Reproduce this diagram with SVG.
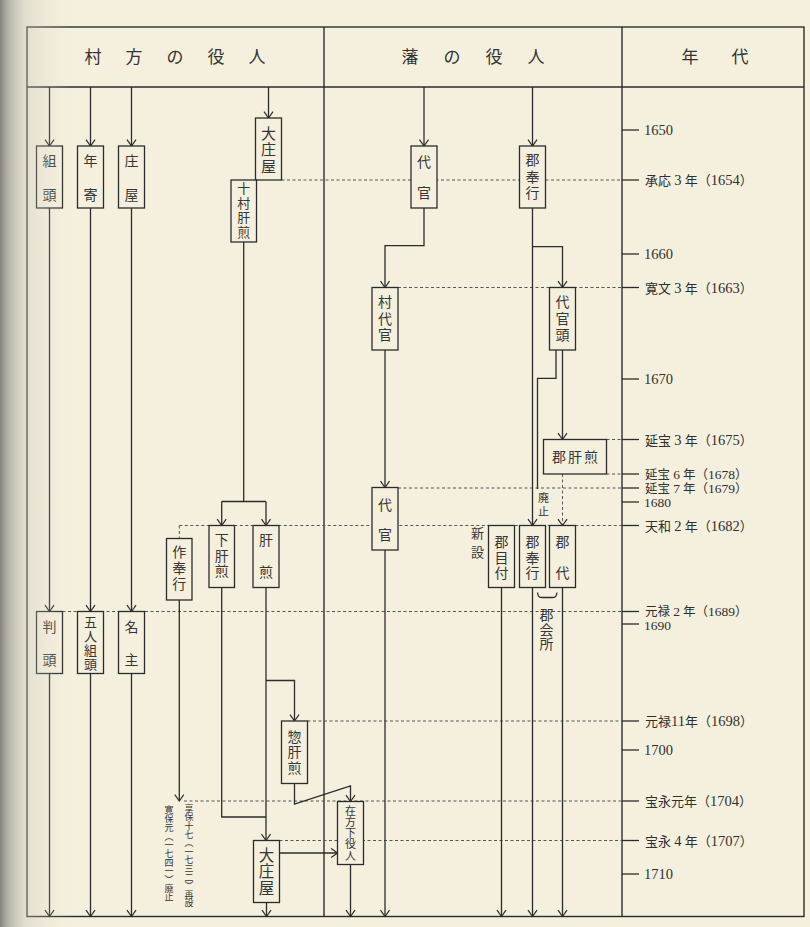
<svg xmlns="http://www.w3.org/2000/svg" width="810" height="927" viewBox="0 0 810 927">
<defs>
<style>
.box{fill:#f5f0de;stroke:#2b2b2b;stroke-width:1.3}
.ln{fill:none;stroke:#2b2b2b;stroke-width:1.3}
.dot{fill:none;stroke:#555;stroke-width:1;stroke-dasharray:3 2.5}
.frame{fill:none;stroke:#2b2b2b;stroke-width:1.4}
.jp{font-family:"Noto Sans CJK JP","Noto Sans CJK SC",sans-serif;fill:#363636;font-size:14px}
.v{writing-mode:vertical-rl;text-anchor:start}
.hd{font-family:"Noto Sans CJK JP",sans-serif;fill:#333;text-anchor:middle;font-size:17px}
.yr{font-family:"Liberation Serif","Noto Sans CJK JP",serif;fill:#2f2f2f;font-size:13px}
.d{font-size:14.5px}
.ys{font-size:12.5px}
.ys .d{font-size:13.5px}
</style>
<marker id="ah" viewBox="0 0 7 10" refX="6.6" refY="5" markerWidth="7" markerHeight="10" orient="auto" markerUnits="userSpaceOnUse" overflow="visible">
<path d="M0.3,0.5 L6.6,5 L0.3,9.5" fill="none" stroke="#2b2b2b" stroke-width="1.2"/>
</marker>
<linearGradient id="shade" x1="0" y1="0" x2="1" y2="0">
<stop offset="0" stop-color="#7c7b76" stop-opacity="0.95"/>
<stop offset="0.12" stop-color="#9d9c95" stop-opacity="0.7"/>
<stop offset="0.35" stop-color="#c4c1b4" stop-opacity="0.4"/>
<stop offset="1" stop-color="#e8e2cf" stop-opacity="0"/>
</linearGradient>
</defs>

<rect x="0" y="0" width="810" height="927" fill="#f5f0de"/>

<g id="frame">
<rect class="frame" x="27" y="27" width="777" height="889.5"/>
<line class="frame" x1="27" y1="87" x2="804" y2="87"/>
<line class="frame" x1="324" y1="27" x2="324" y2="916.5"/>
<line class="frame" x1="622" y1="27" x2="622" y2="916.5"/>
<text class="hd"><tspan x="93" y="63">村</tspan><tspan x="134" y="63">方</tspan><tspan x="175" y="63">の</tspan><tspan x="216" y="63">役</tspan><tspan x="257" y="63">人</tspan></text>
<text class="hd"><tspan x="410" y="63">藩</tspan><tspan x="452" y="63">の</tspan><tspan x="494" y="63">役</tspan><tspan x="536" y="63">人</tspan></text>
<text class="hd"><tspan x="690" y="63">年</tspan><tspan x="740" y="63">代</tspan></text>
</g>

<g id="guides">
<line class="dot" x1="281.5" y1="180" x2="622" y2="180"/>
<line class="dot" x1="398" y1="287.5" x2="622" y2="287.5"/>
<line class="dot" x1="606.5" y1="439.5" x2="622" y2="439.5"/>
<line class="dot" x1="606.5" y1="474" x2="622" y2="474"/>
<line class="dot" x1="398" y1="488" x2="622" y2="488"/>
<line class="dot" x1="179.3" y1="525.5" x2="622" y2="525.5"/>
<line class="dot" x1="179.3" y1="525.5" x2="179.3" y2="538.5"/>
<line class="dot" x1="62.5" y1="611.5" x2="622" y2="611.5"/>
<line class="dot" x1="307.5" y1="721" x2="622" y2="721"/>
<line class="dot" x1="184" y1="801" x2="622" y2="801"/>
<line class="dot" x1="279.5" y1="840.5" x2="622" y2="840.5"/>
<line class="dot" x1="562.5" y1="474" x2="562.5" y2="525.5" marker-end="url(#ah)"/>
</g>

<g id="connectors">
<line class="ln" x1="49.5" y1="87" x2="49.5" y2="146" marker-end="url(#ah)"/>
<line class="ln" x1="90.5" y1="87" x2="90.5" y2="146" marker-end="url(#ah)"/>
<line class="ln" x1="131.5" y1="87" x2="131.5" y2="146" marker-end="url(#ah)"/>
<line class="ln" x1="268.5" y1="87" x2="268.5" y2="118" marker-end="url(#ah)"/>
<line class="ln" x1="424" y1="87" x2="424" y2="146" marker-end="url(#ah)"/>
<line class="ln" x1="532.5" y1="87" x2="532.5" y2="146" marker-end="url(#ah)"/>

<line class="ln" x1="49.5" y1="208" x2="49.5" y2="611.5" marker-end="url(#ah)"/>
<line class="ln" x1="90.5" y1="208" x2="90.5" y2="611.5" marker-end="url(#ah)"/>
<line class="ln" x1="131.5" y1="208" x2="131.5" y2="611.5" marker-end="url(#ah)"/>
<line class="ln" x1="49.5" y1="673.5" x2="49.5" y2="916.5" marker-end="url(#ah)"/>
<line class="ln" x1="90.5" y1="673.5" x2="90.5" y2="916.5" marker-end="url(#ah)"/>
<line class="ln" x1="131.5" y1="673.5" x2="131.5" y2="916.5" marker-end="url(#ah)"/>

<polyline class="ln" points="243.7,242 243.7,501.5"/>
<polyline class="ln" points="221.7,501.5 266,501.5"/>
<line class="ln" x1="221.7" y1="501.5" x2="221.7" y2="525.5" marker-end="url(#ah)"/>
<line class="ln" x1="266" y1="501.5" x2="266" y2="525.5" marker-end="url(#ah)"/>
<polyline class="ln" points="221.7,587.5 221.7,817 266,817"/>
<line class="ln" x1="266" y1="587.5" x2="266" y2="840.5" marker-end="url(#ah)"/>
<polyline class="ln" points="266,680.5 294.5,680.5 294.5,721" marker-end="url(#ah)"/>
<polyline class="ln" points="294.5,783.5 294.5,804 350.5,786 350.5,801.5" marker-end="url(#ah)"/>
<line class="ln" x1="279.5" y1="853" x2="337.5" y2="853" marker-end="url(#ah)"/>
<line class="ln" x1="266.5" y1="902.5" x2="266.5" y2="916.5" marker-end="url(#ah)"/>
<line class="ln" x1="350.5" y1="864.5" x2="350.5" y2="916.5" marker-end="url(#ah)"/>
<line class="ln" x1="179.3" y1="600" x2="179.3" y2="801" marker-end="url(#ah)"/>

<polyline class="ln" points="424,208 424,245.7 385,245.7 385,287.5" marker-end="url(#ah)"/>
<line class="ln" x1="385" y1="350" x2="385" y2="487.5" marker-end="url(#ah)"/>
<line class="ln" x1="385" y1="550" x2="385" y2="916.5" marker-end="url(#ah)"/>

<line class="ln" x1="532.5" y1="208" x2="532.5" y2="525.5" marker-end="url(#ah)"/>
<polyline class="ln" points="532.5,246.7 562.5,246.7 562.5,287.5" marker-end="url(#ah)"/>
<line class="ln" x1="562.5" y1="350" x2="562.5" y2="439.5" marker-end="url(#ah)"/>
<polyline class="ln" points="556,350 556,378.3 537.5,378.3 537.5,489"/>
<line class="ln" x1="501.5" y1="587.5" x2="501.5" y2="916.5" marker-end="url(#ah)"/>
<line class="ln" x1="532.5" y1="587.5" x2="532.5" y2="916.5" marker-end="url(#ah)"/>
<line class="ln" x1="562.5" y1="587.5" x2="562.5" y2="916.5" marker-end="url(#ah)"/>
<path class="ln" d="M537.5,592.5 C538,597 539.5,597.5 542.5,597.5 L552,597.5 C555,597.5 556.5,597 557,592.5"/>
</g>

<g id="kumigashira"><rect class="box" x="36.5" y="146" width="26" height="62"/><text class="jp v" x="49.5" y="154" letter-spacing="20">組頭</text></g>
<g id="toshiyori"><rect class="box" x="77.5" y="146" width="26" height="62"/><text class="jp v" x="90.5" y="154" letter-spacing="20">年寄</text></g>
<g id="shoya"><rect class="box" x="118.5" y="146" width="26" height="62"/><text class="jp v" x="131.5" y="154" letter-spacing="20">庄屋</text></g>
<g id="oshoya1"><rect class="box" x="255.5" y="118" width="26" height="62"/><text class="jp v" x="268.5" y="125.8" letter-spacing="1.4" style="font-size:15px">大庄屋</text></g>
<g id="tomurakimoiri"><rect class="box" x="231" y="180" width="25.5" height="62"/><text class="jp v" x="243.7" y="181.5" letter-spacing="1.7" style="font-size:13px">十村肝煎</text></g>
<g id="shitakimoiri"><rect class="box" x="209" y="525.5" width="25.5" height="62"/><text class="jp v" x="221.7" y="533" letter-spacing="1.5">下肝煎</text></g>
<g id="kimoiri"><rect class="box" x="253" y="525.5" width="26" height="62"/><text class="jp v" x="266" y="533" letter-spacing="17.7">肝煎</text></g>
<g id="sakubugyo"><rect class="box" x="166.5" y="538.5" width="25.5" height="61.5"/><text class="jp v" x="179.3" y="544.7" letter-spacing="2.2">作奉行</text></g>
<g id="hangashira"><rect class="box" x="36.5" y="611.5" width="26" height="62"/><text class="jp v" x="49.5" y="619.7" letter-spacing="19.3">判頭</text></g>
<g id="goningumigashira"><rect class="box" x="77.5" y="611.5" width="26" height="62"/><text class="jp v" x="90.5" y="615.2" letter-spacing="1" style="font-size:13px">五人組頭</text></g>
<g id="nanushi"><rect class="box" x="118.5" y="611.5" width="26" height="62"/><text class="jp v" x="131.5" y="619.7" letter-spacing="19.3">名主</text></g>
<g id="sokimoiri"><rect class="box" x="281.5" y="721" width="26" height="62.5"/><text class="jp v" x="294.5" y="729.7" letter-spacing="1.3">惣肝煎</text></g>
<g id="oshoya2"><rect class="box" x="253.5" y="840.5" width="26" height="62"/><text class="jp v" x="266.5" y="847.2" letter-spacing="1.1" style="font-size:15.5px">大庄屋</text></g>
<g id="zaikata"><rect class="box" x="337.5" y="801.5" width="26" height="63"/><text class="jp v" x="350.5" y="805" letter-spacing="0.25" style="font-size:11px">在方下役人</text></g>
<g id="note-sakubugyo">
<text class="jp v" x="189" y="803.8" letter-spacing="-0.4" style="font-size:9px">享保十七（一七三二）再設</text>
<text class="jp v" x="169" y="805.5" letter-spacing="-0.3" style="font-size:9px">寛保元（一七四一）廃止</text>
</g>

<g id="daikan1"><rect class="box" x="411" y="146" width="26" height="62"/><text class="jp v" x="424" y="155" letter-spacing="17">代官</text></g>
<g id="koribugyo1"><rect class="box" x="519.5" y="146" width="26" height="62"/><text class="jp v" x="532.5" y="153" letter-spacing="2.5">郡奉行</text></g>
<g id="muradaikan"><rect class="box" x="372" y="287.5" width="26" height="62.5"/><text class="jp v" x="385" y="295" letter-spacing="2.5">村代官</text></g>
<g id="daikangashira"><rect class="box" x="549.5" y="287.5" width="26" height="62.5"/><text class="jp v" x="562.5" y="295" letter-spacing="2.5">代官頭</text></g>
<g id="korikimoiri"><rect class="box" x="543.5" y="439.5" width="63" height="34.5"/><text class="jp" x="576" y="462" text-anchor="middle" letter-spacing="2">郡肝煎</text></g>
<g id="daikan2"><rect class="box" x="372" y="487.5" width="26" height="62.5"/><text class="jp v" x="385" y="498" letter-spacing="16">代官</text></g>
<g id="korimetsuke"><rect class="box" x="488.5" y="525.5" width="26" height="62"/><text class="jp v" x="501.5" y="535" letter-spacing="1.5">郡目付</text></g>
<g id="koribugyo2"><rect class="box" x="519.5" y="525.5" width="26" height="62"/><text class="jp v" x="532.5" y="535" letter-spacing="1.5">郡奉行</text></g>
<g id="koridai"><rect class="box" x="549.5" y="525.5" width="26" height="62"/><text class="jp v" x="562.5" y="535" letter-spacing="17">郡代</text></g>
<g id="labels">
<text class="jp v" x="543.5" y="492.5" letter-spacing="2.7" style="font-size:11px">廃止</text>
<text class="jp v" x="477.5" y="526.5" letter-spacing="5.7" style="font-size:13px">新設</text>
<text class="jp v" x="546.5" y="608" letter-spacing="0.5">郡会所</text>
</g>

<g id="timeline">
<g class="ln">
<line x1="622" y1="130" x2="639" y2="130"/>
<line x1="622" y1="180" x2="639" y2="180"/>
<line x1="622" y1="254" x2="639" y2="254"/>
<line x1="622" y1="287.5" x2="639" y2="287.5"/>
<line x1="622" y1="379" x2="639" y2="379"/>
<line x1="622" y1="439.5" x2="639" y2="439.5"/>
<line x1="622" y1="474" x2="639" y2="474"/>
<line x1="622" y1="488" x2="639" y2="488"/>
<line x1="622" y1="502" x2="639" y2="502"/>
<line x1="622" y1="525.5" x2="639" y2="525.5"/>
<line x1="622" y1="611.5" x2="639" y2="611.5"/>
<line x1="622" y1="624" x2="639" y2="624"/>
<line x1="622" y1="721" x2="639" y2="721"/>
<line x1="622" y1="750" x2="639" y2="750"/>
<line x1="622" y1="801" x2="639" y2="801"/>
<line x1="622" y1="840.5" x2="639" y2="840.5"/>
<line x1="622" y1="874" x2="639" y2="874"/>
</g>
<text class="yr d" x="644" y="135">1650</text>
<text class="yr" x="645" y="185">承応 <tspan class="d">3</tspan> 年（<tspan class="d">1654</tspan>）</text>
<text class="yr d" x="644" y="259">1660</text>
<text class="yr" x="645" y="292.5">寛文 <tspan class="d">3</tspan> 年（<tspan class="d">1663</tspan>）</text>
<text class="yr d" x="644" y="384">1670</text>
<text class="yr" x="645" y="444.5">延宝 <tspan class="d">3</tspan> 年（<tspan class="d">1675</tspan>）</text>
<text class="yr ys" x="645" y="478.5">延宝 <tspan class="d">6</tspan> 年（<tspan class="d">1678</tspan>）</text>
<text class="yr ys" x="645" y="492.5">延宝 <tspan class="d">7</tspan> 年（<tspan class="d">1679</tspan>）</text>
<text class="yr" x="644" y="506.5" style="font-size:13.5px">1680</text>
<text class="yr" x="645" y="530.5">天和 <tspan class="d">2</tspan> 年（<tspan class="d">1682</tspan>）</text>
<text class="yr ys" x="645" y="615.5">元禄 <tspan class="d">2</tspan> 年（<tspan class="d">1689</tspan>）</text>
<text class="yr" x="644" y="630" style="font-size:13.5px">1690</text>
<text class="yr" x="645" y="726">元禄<tspan class="d">11</tspan>年（<tspan class="d">1698</tspan>）</text>
<text class="yr d" x="644" y="755">1700</text>
<text class="yr" x="645" y="806">宝永元年（<tspan class="d">1704</tspan>）</text>
<text class="yr" x="645" y="845.5">宝永 <tspan class="d">4</tspan> 年（<tspan class="d">1707</tspan>）</text>
<text class="yr d" x="644" y="879">1710</text>
</g>

<rect x="0" y="0" width="70" height="927" fill="url(#shade)" pointer-events="none"/>
</svg>
